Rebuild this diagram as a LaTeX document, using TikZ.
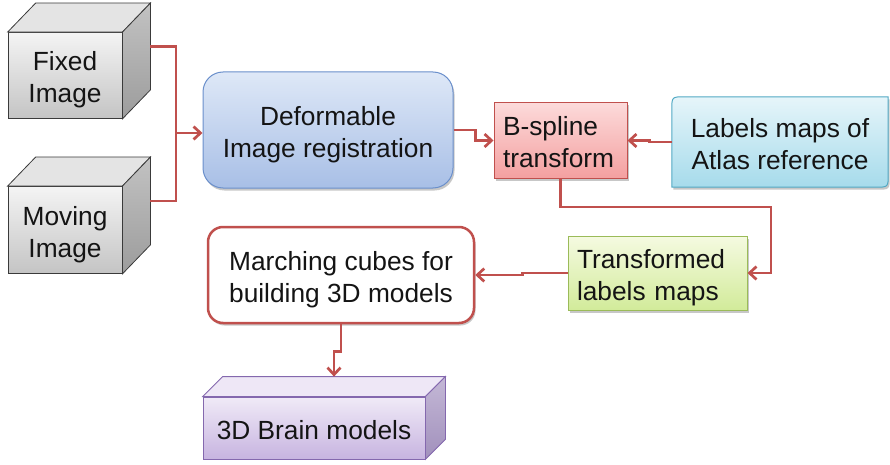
\documentclass[tikz,border=0pt]{standalone}
\usepackage{fontspec}
\setmainfont{Liberation Sans}
\usetikzlibrary{arrows.meta,calc,shadows,backgrounds}

% invisible struts giving each text block the font's full ascent and descent
\newcommand\lnhigh{\rule{0pt}{1.05em}}
\newcommand\lnlow{\rule[-0.21em]{0pt}{0.21em}}

\definecolor{wire}{HTML}{C0504D}
\definecolor{ink}{HTML}{141414}
% grey cubes
\definecolor{cubeTop}{HTML}{F4F4F4}
\definecolor{cubeBot}{HTML}{C4C4C4}
\definecolor{cubeLid}{HTML}{E4E4E4}
\definecolor{cubeSideA}{HTML}{C2C2C2}
\definecolor{cubeSideB}{HTML}{9C9C9C}
\definecolor{cubeLine}{HTML}{3A3A3A}
% purple cube
\definecolor{brainTop}{HTML}{F0EAF7}
\definecolor{brainBot}{HTML}{C7B4E0}
\definecolor{brainLid}{HTML}{EEE7F6}
\definecolor{brainSideA}{HTML}{C4B8D6}
\definecolor{brainSideB}{HTML}{A190BC}
\definecolor{brainLine}{HTML}{8468AE}
% boxes
\definecolor{regTop}{HTML}{DEE8F7}
\definecolor{regBot}{HTML}{A8BFE6}
\definecolor{regLine}{HTML}{6A8FCB}
\definecolor{bspTop}{HTML}{FCDADA}
\definecolor{bspBot}{HTML}{F4A0A0}
\definecolor{atlTop}{HTML}{E6F5FA}
\definecolor{atlBot}{HTML}{A6DBEB}
\definecolor{atlLine}{HTML}{52A9C4}
\definecolor{trnTop}{HTML}{F5FAE1}
\definecolor{trnBot}{HTML}{D2EB9A}
\definecolor{trnLine}{HTML}{9BBB59}

\begin{document}
\begin{tikzpicture}[x=1pt,y=-1pt,
  every node/.style={font=\fontsize{26.3}{32}\selectfont, text=ink, align=center, inner sep=0pt},
  softshadow/.style={drop shadow={shadow xshift=1.5pt, shadow yshift=-2.5pt, opacity=0.22, fill=black}},
  link/.style={draw=wire, line width=2.7pt, line join=miter,
    -{Straight Barb[length=7pt,width=13pt,line width=2.7pt]}},
  bus/.style={draw=wire, line width=2.7pt},
  greyfront/.style={draw=cubeLine, line width=0.8pt, top color=cubeTop, bottom color=cubeBot},
  greylid/.style={draw=cubeLine, line width=0.8pt, fill=cubeLid},
  greyside/.style={draw=cubeLine, line width=0.8pt, top color=cubeSideA, bottom color=cubeSideB},
  purplefront/.style={draw=brainLine, line width=0.8pt, top color=brainTop, bottom color=brainBot},
  purplelid/.style={draw=brainLine, line width=0.8pt, fill=brainLid},
  purpleside/.style={draw=brainLine, line width=0.8pt, top color=brainSideA, bottom color=brainSideB},
]
\useasboundingbox (0,0) rectangle (890,465);

% ---------- input volumes (grey cubes) ----------
\node[greyfront, minimum width=114pt, minimum height=86pt] (fixed) at (65,75.5) {\lnhigh Fixed\\Image\lnlow};
\path[greylid] (fixed.north west) -- ++(28,-29) -- ($(fixed.north east)+(28,-29)$) -- (fixed.north east) -- cycle;
\path[greyside] (fixed.north east) -- ++(28,-29) -- ($(fixed.south east)+(28,-29)$) -- (fixed.south east) -- cycle;

\node[greyfront, minimum width=114pt, minimum height=87pt] (moving) at (65,230) {\lnhigh Moving\\Image\lnlow};
\path[greylid] (moving.north west) -- ++(28,-29) -- ($(moving.north east)+(28,-29)$) -- (moving.north east) -- cycle;
\path[greyside] (moving.north east) -- ++(28,-29) -- ($(moving.south east)+(28,-29)$) -- (moving.south east) -- cycle;

% ---------- processing boxes ----------
\node[draw=regLine, line width=1pt, rounded corners=20pt, top color=regTop, bottom color=regBot,
      softshadow, minimum width=250pt, minimum height=116pt] (reg) at (328,130)
      {\lnhigh Deformable\\Image registration\lnlow};

\node[draw=wire, line width=1pt, top color=bspTop, bottom color=bspBot, softshadow,
      text width=115pt, align=left, inner xsep=9pt, minimum height=75pt] (bsp) at (560.5,140.5)
      {\lnhigh B-spline\\transform\lnlow};

\node[minimum width=216pt, minimum height=90pt] (atlas) at (780,142)
      {\lnhigh Labels maps of\\Atlas reference\lnlow};
\begin{scope}[on background layer]
  \path[draw=atlLine, line width=1pt, top color=atlTop, bottom color=atlBot, softshadow]
    ($(atlas.north west)+(0,13)$) .. controls (atlas.north west) .. ($(atlas.north west)+(13,0)$)
    -- (atlas.north east)
    -- ($(atlas.south east)+(0,-13)$) .. controls (atlas.south east) .. ($(atlas.south east)+(-13,0)$)
    -- (atlas.south west) -- cycle;
\end{scope}

\node[draw=trnLine, line width=1pt, top color=trnTop, bottom color=trnBot, softshadow,
      text width=161pt, align=left, inner xsep=9pt, minimum height=74pt] (trans) at (657.5,273)
      {\lnhigh Transformed\\labels maps\lnlow};

\node[draw=wire, line width=2.5pt, rounded corners=15pt, fill=white, softshadow,
      minimum width=266pt, minimum height=96pt] (march) at (341,275)
      {\lnhigh Marching cubes for\\building 3D models\lnlow};

% ---------- output volume (purple cube) ----------
\node[purplefront, minimum width=222pt, minimum height=62pt] (brain) at (314,428) {\lnhigh 3D Brain models\lnlow};
\path[purplelid] (brain.north west) -- ++(20,-20) -- ($(brain.north east)+(20,-20)$) -- (brain.north east) -- cycle;
\path[purpleside] (brain.north east) -- ++(20,-20) -- ($(brain.south east)+(20,-20)$) -- (brain.south east) -- cycle;

% ---------- connectors ----------
\coordinate (fixedout) at ($(fixed.east)+(28,-29)$);
\coordinate (movingout) at ($(moving.east)+(28,-29)$);
\coordinate (merge) at (176,133);
\draw[bus] (fixedout) -| (merge) |- (movingout);
\draw[link] (merge) -- (merge -| reg.west);

\draw[link] (reg.east) -- ++(22,0) |- (bsp.west);
\draw[link] (atlas.west) -- ++(-22,0) |- (bsp.east);

\coordinate (turn) at (771,207);
\draw[link] (bsp.south) |- (turn) |- (trans.east);

\draw[link] (trans.west) -- ++(-45,0) |- (march.east);

\coordinate (brainback) at ($(brain.north)+(20,-20)$);
\draw[link] (march.south) -- ++(0,27) -| (brainback);
\end{tikzpicture}
\end{document}
